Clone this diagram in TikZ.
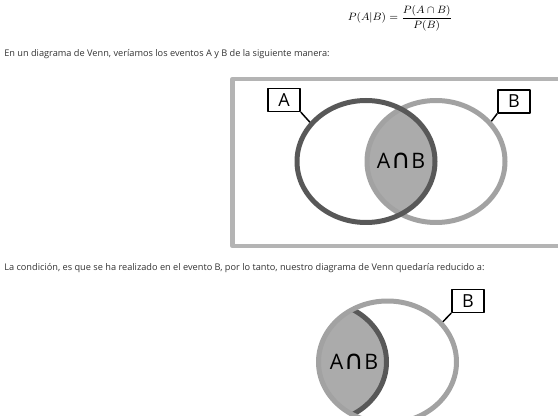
\documentclass[tikz,border=0pt]{standalone}
\usepackage{fontspec}
\setmainfont{Open Sans}
\newfontfamily\symfont{DejaVu Sans}
\usetikzlibrary{shapes.geometric}
\definecolor{darkset}{HTML}{585858}
\definecolor{lightset}{HTML}{A2A2A2}
\definecolor{lensgray}{HTML}{ABABAB}
\definecolor{framegray}{HTML}{B4B4B4}
\newcommand\capsym{{\symfont\fontsize{20}{20}\selectfont ∩}}
\begin{document}
\begin{tikzpicture}[x=0.75pt,y=0.75pt,line join=round,
    setA/.style={ellipse,draw=darkset,line width=3.75pt,minimum width=103.5pt,minimum height=91.5pt,inner sep=0pt},
    setB/.style={setA,draw=lightset},
    lab/.style={draw,line width=1.1pt,minimum width=24pt,minimum height=17pt,inner sep=0pt,font=\fontsize{13.5}{14}\selectfont},
    intertext/.style={font=\fontsize{16}{16}\selectfont},
    txt/.style={anchor=base west,inner sep=0pt,text=black!80,font=\fontsize{6.9}{8}\selectfont}]
    \useasboundingbox (0,0) rectangle (558,415);
    \clip (0,0) rectangle (558,415);
    % formula and text
    \node (form) at (400,396.5) {\fontsize{8}{9}\selectfont $\displaystyle P(A|B)=\frac{P(A\cap B)}{P(B)}$};
    \node[txt] (line1) at (4,358) {En un diagrama de Venn, veríamos los eventos A y B de la siguiente manera:};
    \node[txt] (line2) at (4,144) {La condición, es que se ha realizado en el evento B, por lo tanto, nuestro diagrama de Venn quedaría reducido a:};
    % first diagram
    \draw[framegray,line width=3.4pt] (232.5,169) rectangle (600,336);
    \coordinate (cA) at (366,253.5);
    \coordinate (cB) at (436,253.5);
    \begin{scope}
        \clip (cA) ellipse [x radius=51.75pt,y radius=45.75pt];
        \fill[lensgray] (cB) ellipse [x radius=51.75pt,y radius=45.75pt];
    \end{scope}
    \node[setB] (setB) at (cB) {};
    \node[setA] (setA) at (cA) {};
    \node[intertext] (inter) at (401,254) {A\kern0.5pt\capsym\kern0.5pt B};
    \node[lab] (labA) at (284,315) {A};
    \node[lab] (labB) at (514,313.5) {B};
    \draw[line width=1.1pt] (labA.south east) -- (setA.145);
    \draw[line width=1.1pt] (labB.south west) -- (setB.36);
    % second diagram
    \coordinate (cA2) at (317.5,53);
    \coordinate (cB2) at (387.5,53);
    \begin{scope}
        \clip (cA2) ellipse [x radius=51.75pt,y radius=45.75pt];
        \fill[lensgray] (cB2) ellipse [x radius=51.75pt,y radius=45.75pt];
    \end{scope}
    \begin{scope}
        \clip (cB2) ellipse [x radius=51.75pt,y radius=45.75pt];
        \draw[darkset,line width=3.75pt] (cA2) ellipse [x radius=51.75pt,y radius=45.75pt];
    \end{scope}
    \node[setB] (setB2) at (cB2) {};
    \node[intertext] (inter2) at (354,53) {A\kern0.5pt\capsym\kern0.5pt B};
    \node[lab] (labB2) at (468,114) {B};
    \draw[line width=1.1pt] (labB2.south west) -- (setB2.36);
\end{tikzpicture}
\end{document}
